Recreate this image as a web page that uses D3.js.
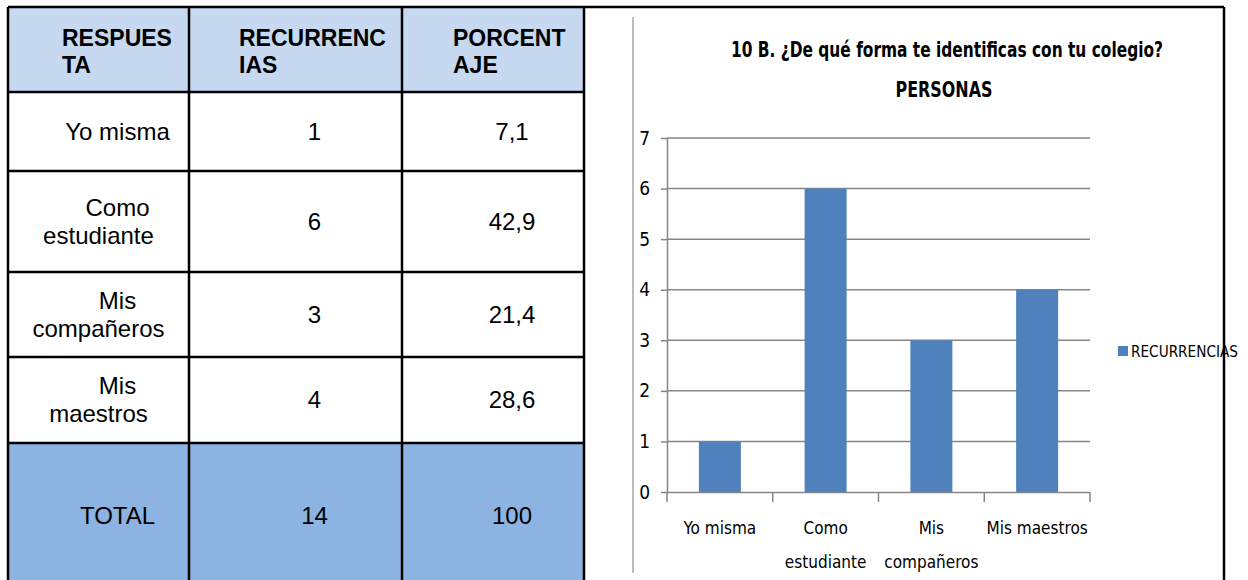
<!DOCTYPE html>
<html>
<head>
<meta charset="utf-8">
<script src="https://cdn.jsdelivr.net/npm/d3@7"></script>
<style>
  body { margin: 0; background: #fff; }
  svg { display: block; }
</style>
</head>
<body>
<svg id="grafico" width="1248" height="580"></svg>
<script>
// Datos de la tabla y del grafico
var encabezados = [["RESPUES", "TA"], ["RECURRENC", "IAS"], ["PORCENT", "AJE"]];
var respuestas = [["Yo misma"], ["Como", "estudiante"], ["Mis", "compañeros"], ["Mis", "maestros"]];
var categorias = [["Yo misma"], ["Como", "estudiante"], ["Mis", "compañeros"], ["Mis maestros"]];
var recurrencias = [1, 6, 3, 4];
var porcentajes = ["7,1", "42,9", "21,4", "28,6"];
var totales = ["TOTAL", "14", "100"];
var yTicks = [0, 1, 2, 3, 4, 5, 6, 7];
var titulo = ["10 B. ¿De qué forma te identificas con tu colegio?", "PERSONAS"];
var serie = "RECURRENCIAS";

var svg = d3.select("#grafico");

// ---------- Tabla ----------
var colX = [8, 189, 402, 584];
var filaY = [7, 92, 171, 272, 357, 443, 588];
var headX = [62, 239, 453];
var tablaFont = "'Liberation Sans', Arial, sans-serif";

var tabla = svg.append("g").attr("class", "tabla");

// fondos
tabla.append("rect")
    .attr("x", colX[0]).attr("y", filaY[0])
    .attr("width", colX[3] - colX[0]).attr("height", filaY[1] - filaY[0])
    .attr("fill", "#c6d9f1");
tabla.append("rect")
    .attr("x", colX[0]).attr("y", filaY[5])
    .attr("width", colX[3] - colX[0]).attr("height", filaY[6] - filaY[5])
    .attr("fill", "#8db3e2");

// encabezados
encabezados.forEach(function (h, i) {
    var t = tabla.append("text")
        .attr("font-family", tablaFont)
        .attr("font-weight", "bold")
        .attr("font-size", 23)
        .attr("fill", "#000");
    h.forEach(function (linea, j) {
        t.append("tspan")
            .attr("x", headX[i])
            .attr("y", 46 + j * 27)
            .text(linea);
    });
});

// celdas
function celda(lineas, col, fila) {
    var cx = (colX[col] + colX[col + 1]) / 2;
    var cy = (filaY[fila] + filaY[fila + 1]) / 2;
    var lh = 28;
    var y0 = cy - (lineas.length - 1) * lh / 2 + 8;
    var t = tabla.append("text")
        .attr("font-family", tablaFont)
        .attr("font-size", 24)
        .attr("text-anchor", "middle")
        .attr("fill", "#000");
    lineas.forEach(function (linea, j) {
        t.append("tspan")
            .attr("x", j === 0 ? cx + 19 : cx)
            .attr("y", y0 + j * lh)
            .text(linea);
    });
}

respuestas.forEach(function (r, i) {
    celda(r, 0, i + 1);
    celda([String(recurrencias[i])], 1, i + 1);
    celda([porcentajes[i]], 2, i + 1);
});
totales.forEach(function (v, i) { celda([v], i, 5); });

// lineas de la tabla
filaY.slice(0, 6).forEach(function (y) {
    tabla.append("line")
        .attr("x1", colX[0]).attr("x2", colX[3])
        .attr("y1", y).attr("y2", y)
        .attr("stroke", "#000").attr("stroke-width", 2.5);
});
colX.forEach(function (x) {
    tabla.append("line")
        .attr("x1", x).attr("x2", x)
        .attr("y1", filaY[0]).attr("y2", 580)
        .attr("stroke", "#000").attr("stroke-width", 2.5);
});

// ---------- Grafico ----------
var chartFont = "'DejaVu Sans Condensed', 'Liberation Sans Narrow', sans-serif";
var margin = { left: 667, right: 1090, top: 138, bottom: 492 };

var x = d3.scaleBand()
    .domain(categorias.map(function (d) { return d.join(" "); }))
    .range([margin.left, margin.right])
    .paddingInner(0.603)
    .paddingOuter(0.3015);

var y = d3.scaleLinear()
    .domain([0, 7])
    .range([margin.bottom, margin.top]);

var graf = svg.append("g").attr("class", "grafico");

// linea gris izquierda del area
graf.append("line")
    .attr("x1", 633).attr("x2", 633)
    .attr("y1", 17).attr("y2", 573)
    .attr("stroke", "#a6a6a6").attr("stroke-width", 1.5);

// titulo
graf.append("text")
    .attr("x", 947).attr("y", 57)
    .attr("text-anchor", "middle")
    .attr("font-family", chartFont)
    .attr("font-weight", "bold")
    .attr("font-size", 22)
    .attr("textLength", 432)
    .attr("lengthAdjust", "spacingAndGlyphs")
    .attr("fill", "#000")
    .text(titulo[0]);
graf.append("text")
    .attr("x", 944).attr("y", 97)
    .attr("text-anchor", "middle")
    .attr("font-family", chartFont)
    .attr("font-weight", "bold")
    .attr("font-size", 22)
    .attr("textLength", 97)
    .attr("lengthAdjust", "spacingAndGlyphs")
    .attr("fill", "#000")
    .text(titulo[1]);

// cuadricula
graf.append("g")
    .attr("class", "gridy")
    .selectAll("line")
    .data(yTicks.slice(1))
    .enter().append("line")
    .attr("x1", margin.left).attr("x2", margin.right)
    .attr("y1", function (d) { return y(d); })
    .attr("y2", function (d) { return y(d); })
    .attr("stroke", "#868686").attr("stroke-width", 1.5);

// barras
graf.selectAll(".bar")
    .data(recurrencias)
    .enter().append("rect")
    .attr("class", "bar")
    .attr("x", function (d, i) { return x(categorias[i].join(" ")); })
    .attr("width", x.bandwidth())
    .attr("y", function (d) { return y(d); })
    .attr("height", function (d) { return y(0) - y(d); })
    .attr("fill", "#4f81bd");

// eje y
var ejeY = graf.append("g")
    .attr("class", "y axis")
    .attr("transform", "translate(" + margin.left + ",0)")
    .call(d3.axisLeft(y).tickValues(yTicks).tickSize(6).tickPadding(11).tickFormat(d3.format("d")));
ejeY.select(".domain").attr("stroke", "#868686").attr("stroke-width", 1.5).attr("d", "M0.5," + margin.top + "V" + margin.bottom);
ejeY.selectAll(".tick line").attr("stroke", "#868686").attr("stroke-width", 1.5);
ejeY.selectAll(".tick text")
    .attr("font-family", chartFont).attr("font-size", 19).attr("fill", "#000");

// eje x
var ejeX = graf.append("g")
    .attr("class", "x axis")
    .attr("transform", "translate(0," + margin.bottom + ")")
    .call(d3.axisBottom(x).tickSize(0).tickFormat(""));
ejeX.select(".domain").attr("stroke", "#868686").attr("stroke-width", 1.5)
    .attr("d", "M" + margin.left + ",0.5H" + margin.right);
var step = x.step();
var bordes = d3.range(categorias.length + 1).map(function (i) { return margin.left + i * step; });
ejeX.selectAll(".sep")
    .data(bordes)
    .enter().append("line")
    .attr("x1", function (d) { return d; }).attr("x2", function (d) { return d; })
    .attr("y1", 0).attr("y2", 10)
    .attr("stroke", "#868686").attr("stroke-width", 1.5);

categorias.forEach(function (c, i) {
    var cx = x(c.join(" ")) + x.bandwidth() / 2;
    var t = ejeX.append("text")
        .attr("text-anchor", "middle")
        .attr("font-family", chartFont)
        .attr("font-size", 17)
        .attr("fill", "#000");
    c.forEach(function (linea, j) {
        t.append("tspan").attr("x", cx).attr("y", 42 + j * 34).text(linea);
    });
});

// leyenda
graf.append("rect")
    .attr("x", 1118).attr("y", 346)
    .attr("width", 10).attr("height", 10)
    .attr("fill", "#4f81bd");
graf.append("text")
    .attr("x", 1131).attr("y", 357)
    .attr("font-family", chartFont)
    .attr("font-size", 16)
    .attr("textLength", 107)
    .attr("lengthAdjust", "spacingAndGlyphs")
    .attr("fill", "#000")
    .text(serie);

// marco del grafico
graf.append("line")
    .attr("x1", 584).attr("x2", 1224)
    .attr("y1", 7).attr("y2", 7)
    .attr("stroke", "#000").attr("stroke-width", 2.5);
graf.append("line")
    .attr("x1", 1224).attr("x2", 1224)
    .attr("y1", 7).attr("y2", 580)
    .attr("stroke", "#000").attr("stroke-width", 2.5);
</script>
</body>
</html>
